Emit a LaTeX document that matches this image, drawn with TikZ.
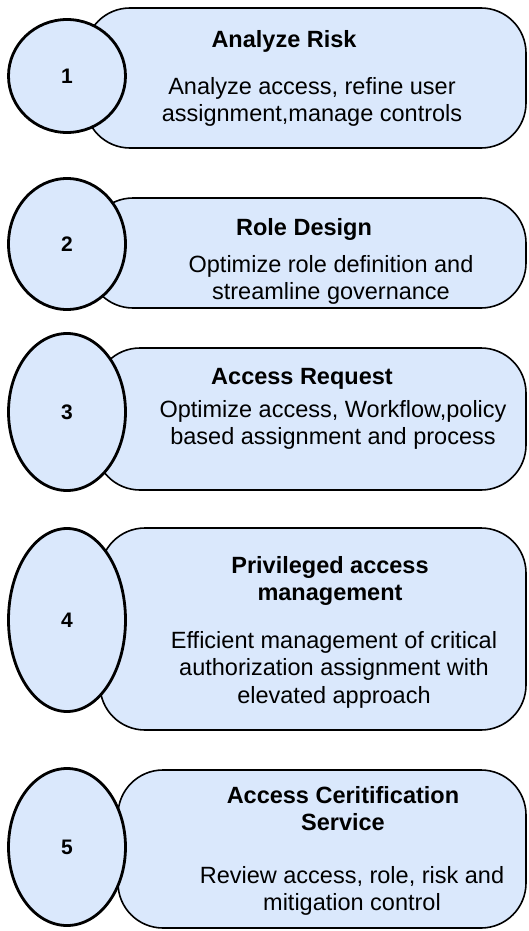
\documentclass[tikz,border=0pt]{standalone}
\usepackage{fontspec}
\setmainfont{Liberation Sans}
\usetikzlibrary{shapes,shapes.geometric,positioning}
\definecolor{pale}{HTML}{DAE8FC}

\begin{document}
\begin{tikzpicture}
[x=1pt,y=-1pt,
box/.style={draw,line width=1.6pt,fill=pale,rounded corners=45pt,inner sep=0pt},
num/.style={shape=ellipse,draw,line width=2.8pt,fill=pale,inner sep=0pt,
	font=\fontsize{21}{25}\selectfont\bfseries},
head/.style={anchor=north,align=center,inner sep=0pt,
	font=\fontsize{23.5}{27.5}\selectfont\bfseries},
desc/.style={anchor=north,align=center,inner sep=0pt,
	font=\fontsize{23.5}{27.5}\selectfont}]

\useasboundingbox (0,0) rectangle (529,931);

\node[box,minimum width=441pt,minimum height=140pt] (b1) at (305.5,78) {};
\node[box,minimum width=438pt,minimum height=110pt] (b2) at (307,253) {};
\node[box,minimum width=431pt,minimum height=142pt] (b3) at (310.5,419) {};
\node[box,minimum width=426pt,minimum height=202pt] (b4) at (313,629) {};
\node[box,minimum width=408pt,minimum height=158pt] (b5) at (322,849) {};

\foreach \i/\y/\h in {1/76/113,2/244/131,3/412/157,4/620/183,5/847/157}
	\node[num,minimum width=117pt,minimum height=\h pt] (n\i) at (67,\y) {\i};

\node[head] (t1) at (284,30) {Analyze Risk};
\node[desc] (d1) at (312,77) {Analyze access, refine user\\assignment,manage controls};

\node[head] (t2) at (304,218) {Role Design};
\node[desc] (d2) at (331,255) {Optimize role definition and\\streamline governance};

\node[head] (t3) at (302,368) {Access Request};
\node[desc] (d3) at (333,400) {Optimize access, Workflow,policy\\based assignment and process};

\node[head] (t4) at (330,556) {Privileged access\\management};
\node[desc] (d4) at (334,631) {Efficient management of critical\\authorization assignment with\\elevated approach};

\node[head] (t5) at (343,786) {Access Ceritification\\Service};
\node[desc] (d5) at (352,866) {Review access, role, risk and\\mitigation control};
\end{tikzpicture}
\end{document}
